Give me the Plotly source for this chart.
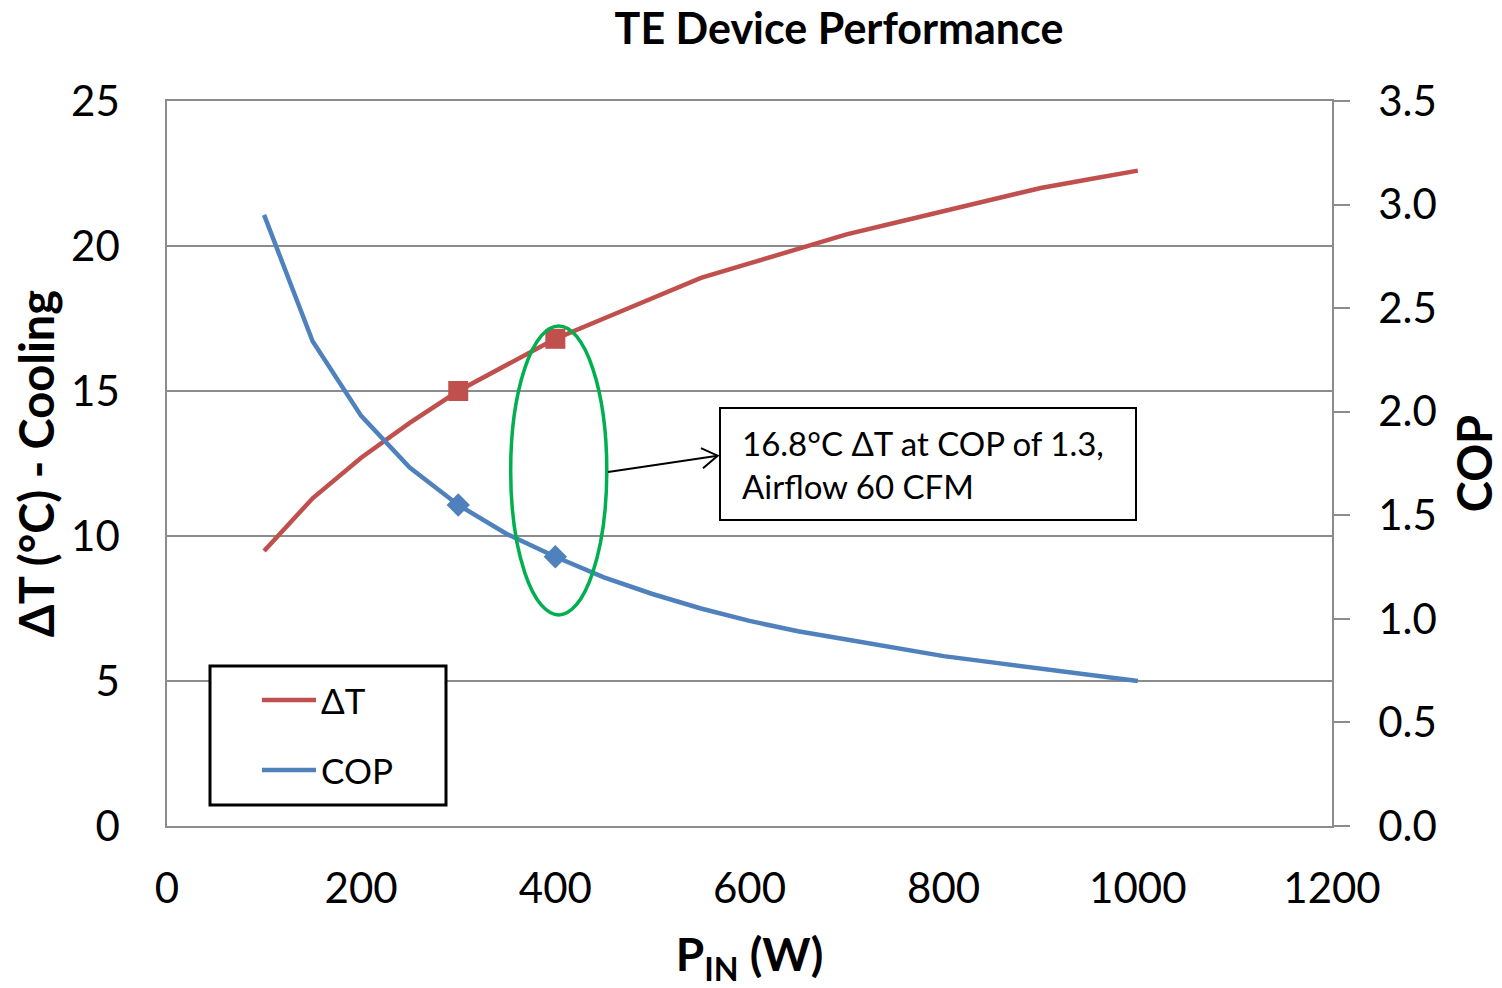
import plotly.graph_objects as go

# Data
p_in = [100, 150, 200, 250, 300, 350, 400, 450, 500, 550, 600, 650, 700, 750, 800, 850, 900, 950, 1000]
delta_t = [9.48, 11.3, 12.7, 13.9, 15.0, 15.9, 16.8, 17.5, 18.2, 18.9, 19.4, 19.9, 20.4, 20.8, 21.2, 21.6, 22.0, 22.3, 22.6]
cop = [2.95, 2.34, 1.98, 1.73, 1.55, 1.41, 1.30, 1.20, 1.12, 1.05, 0.99, 0.94, 0.90, 0.86, 0.82, 0.79, 0.76, 0.73, 0.70]
marked_p = [300, 400]
marked_dt = [15.0, 16.8]
marked_cop = [1.55, 1.30]
series_names = ["ΔT", "COP"]

x_ticks = [0, 200, 400, 600, 800, 1000, 1200]
y_ticks = [0, 5, 10, 15, 20, 25]
y2_ticks = [0.0, 0.5, 1.0, 1.5, 2.0, 2.5, 3.0, 3.5]

RED = "#C0504D"
BLUE = "#4F81BD"
GREEN = "#00B050"
GRID = "#8C8C8C"
FONT = "Lato"

# page geometry (the default html body has an 8px margin)
OFF = 8
PAGE_W, PAGE_H = 1502, 988
W, H = PAGE_W - OFF, PAGE_H - OFF
L, R, T, B = 167, 170, 101, 162          # page-pixel plot-area margins
PW, PH = PAGE_W - L - R, PAGE_H - T - B


def px_x(px):
    return (px - L) / PW


def px_y(py):
    return (PAGE_H - B - py) / PH


fig = go.Figure()
fig.add_trace(go.Scatter(x=p_in, y=delta_t, mode="lines", name=series_names[0], showlegend=False,
                         line=dict(color=RED, width=4.5)))
fig.add_trace(go.Scatter(x=p_in, y=cop, mode="lines", name=series_names[1], yaxis="y2", showlegend=False,
                         line=dict(color=BLUE, width=4.5)))
fig.add_trace(go.Scatter(x=marked_p, y=marked_dt, mode="markers", showlegend=False,
                         marker=dict(symbol="square", size=20, color=RED)))
fig.add_trace(go.Scatter(x=marked_p, y=marked_cop, mode="markers", showlegend=False, yaxis="y2",
                         marker=dict(symbol="diamond", size=18, color=BLUE)))

# Ellipse highlighting 400 W point
fig.add_shape(type="circle", xref="x", yref="y", x0=354, x1=453, y0=7.28, y1=17.24,
              line=dict(color=GREEN, width=3.5))
# Annotation box
fig.add_shape(type="rect", xref="x", yref="y", x0=569.6, x1=998.1, y0=10.55, y1=14.41,
              line=dict(color="black", width=2), fillcolor="white")
fig.add_annotation(x=590, y=12.48, xref="x", yref="y", xanchor="left", yanchor="middle",
                   align="left", showarrow=False,
                   text="16.8°C ΔT at COP of 1.3,<br>Airflow 60 CFM",
                   font=dict(family=FONT, size=33, color="black"))
# Arrow line + open arrowhead
fig.add_shape(type="line", xref="x", yref="y", x0=454.3, y0=12.21, x1=567.2, y1=12.77,
              line=dict(color="black", width=2))
fig.add_shape(type="path", xref="x", yref="y",
              path="M 550.0,13.03 L 567.2,12.77 L 552.1,12.34",
              line=dict(color="black", width=2))

# Legend (drawn manually to match the boxed Excel-style legend)
fig.add_shape(type="rect", xref="paper", yref="paper",
              x0=px_x(210), x1=px_x(446), y0=px_y(805), y1=px_y(666),
              line=dict(color="black", width=3), fillcolor="white")
for name, color, py in [(series_names[0], RED, 700), (series_names[1], BLUE, 770)]:
    fig.add_shape(type="line", xref="paper", yref="paper",
                  x0=px_x(262), x1=px_x(316), y0=px_y(py), y1=px_y(py),
                  line=dict(color=color, width=4.5))
    fig.add_annotation(x=px_x(319), y=px_y(py), xref="paper", yref="paper",
                       xanchor="left", yanchor="middle", showarrow=False, text=name,
                       font=dict(family=FONT, size=35, color="black"))

fig.update_layout(
    width=W, height=H,
    margin=dict(l=L - OFF, r=R, t=T - OFF, b=B),
    paper_bgcolor="white", plot_bgcolor="white",
    font=dict(family=FONT, color="black"),
    title=dict(text="<b>TE Device Performance</b>", x=(839 - OFF) / W, xref="container", xanchor="center",
               y=1 - (29 - OFF) / H, yanchor="middle", font=dict(size=43, family=FONT, color="black")),
    xaxis=dict(range=[0, 1200], tickvals=x_ticks, showgrid=False, zeroline=False,
               showline=True, linecolor=GRID, linewidth=1.5, mirror=True,
               ticks="", ticklabelstandoff=25, automargin=False,
               tickfont=dict(size=42, family=FONT),
               title=dict(text="<b>P<sub>IN</sub> (W)</b>", font=dict(size=46, family=FONT), standoff=29)),
    yaxis=dict(range=[0, 25], tickvals=y_ticks, showgrid=True, gridcolor=GRID, gridwidth=1.5,
               zeroline=False, showline=True, linecolor=GRID, linewidth=1.5, mirror=True,
               ticks="", ticklabelstandoff=37, automargin=False,
               tickfont=dict(size=42, family=FONT),
               title=dict(text="<b>ΔT (°C) - Cooling</b>", font=dict(size=47, family=FONT), standoff=10)),
    yaxis2=dict(range=[0, 3.5], tickvals=y2_ticks, tickformat=".1f", overlaying="y", side="right",
                showgrid=False, zeroline=False, showline=True, linecolor=GRID, linewidth=1.5,
                ticks="outside", ticklen=16, tickcolor=GRID, tickwidth=1.5, ticklabelstandoff=20,
                automargin=False,
                tickfont=dict(size=42, family=FONT),
                title=dict(text="<b>COP</b>", font=dict(size=47, family=FONT), standoff=26)),
    showlegend=False,
)

fig.write_html("out.html")
